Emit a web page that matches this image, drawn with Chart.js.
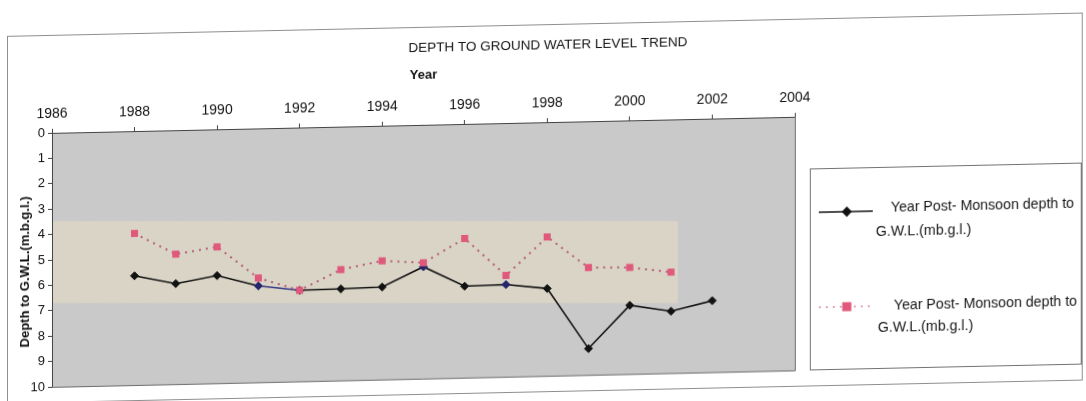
<!DOCTYPE html>
<html>
<head>
<meta charset="utf-8">
<script src="https://cdn.jsdelivr.net/npm/chart.js@4.4.1/dist/chart.umd.min.js"></script>
<style>
  html, body { margin: 0; padding: 0; background: #fff; width: 1086px; height: 401px; overflow: hidden; }
  /* the printed sheet sits with a slight slant: the right side rides higher */
  #sheet { position: absolute; left: 0; top: 0; width: 1086px; height: 430px;
           transform: skewY(-1.24deg); transform-origin: 0 0; }
  canvas { display: block; }
</style>
</head>
<body>
<div id="sheet"><canvas id="gwl" width="1086" height="430"></canvas></div>
<script>
// Post-monsoon depth to ground water level, metres below ground level
const yearsA = [1988, 1989, 1990, 1991, 1992, 1993, 1994, 1995, 1996, 1997, 1998, 1999, 2000, 2001, 2002];
const depthA = [5.70, 6.04, 5.76, 6.20, 6.41, 6.39, 6.35, 5.59, 6.39, 6.36, 6.55, 8.95, 7.28, 7.55, 7.17];

const yearsB = [1988, 1989, 1990, 1991, 1992, 1993, 1994, 1995, 1996, 1997, 1998, 1999, 2000, 2001];
const depthB = [4.03, 4.88, 4.63, 5.89, 6.41, 5.63, 5.32, 5.43, 4.51, 6.00, 4.52, 5.76, 5.79, 6.01];

const yearTicks = [1986, 1988, 1990, 1992, 1994, 1996, 1998, 2000, 2002, 2004];
const depthTicks = [0, 1, 2, 3, 4, 5, 6, 7, 8, 9, 10];

const chartTitle = 'DEPTH TO GROUND WATER LEVEL TREND';
const xTitle = 'Year';
const yTitle = 'Depth to G.W.L.(m.b.g.l.)';
const seriesLabel = 'Year Post- Monsoon depth to G.W.L.(mb.g.l.)';

const FONT = '"Liberation Sans", Arial, Helvetica, sans-serif';
const SHEAR = Math.tan(1.24 * Math.PI / 180);
Chart.defaults.font.family = FONT;

// a few markers of the solid series print in a navy tint
const markerA = yearsA.map(y => (y === 1991 || y === 1995 || y === 1997) ? '#25256e' : '#121212');

function wrapWords(ctx, text, maxW) {
  const words = text.split(' ');
  const lines = [];
  let cur = '';
  words.forEach(w => {
    const t = cur ? cur + ' ' + w : w;
    if (cur && ctx.measureText(t).width > maxW) { lines.push(cur); cur = w; }
    else cur = t;
  });
  if (cur) lines.push(cur);
  return lines;
}

const decor = {
  id: 'decor',
  beforeDraw(chart) {
    const { ctx, chartArea: a } = chart;
    ctx.save();
    // outer frame of the chart
    ctx.strokeStyle = '#8e8e8e';
    ctx.lineWidth = 1;
    ctx.strokeRect(7.5, 36.5, 1075, 367);
    // plot area fill
    ctx.fillStyle = '#c9c9c9';
    ctx.fillRect(a.left, a.top, a.right - a.left, a.bottom - a.top);
    // shaded band, laid level on the page
    ctx.transform(1, SHEAR, 0, 1, 0, 0);
    ctx.fillStyle = '#d9d4c6';
    ctx.fillRect(a.left, 221, 678 - a.left, 82);
    ctx.restore();
  },
  afterDraw(chart) {
    const { ctx, chartArea: a } = chart;
    ctx.save();
    // right and bottom edges of the plot area
    ctx.strokeStyle = '#6a6a6a';
    ctx.lineWidth = 1;
    ctx.beginPath();
    ctx.moveTo(Math.round(a.right) + 0.5, a.top);
    ctx.lineTo(Math.round(a.right) + 0.5, a.bottom);
    ctx.lineTo(a.left, Math.round(a.bottom) + 0.5);
    ctx.stroke();

    // titles
    ctx.fillStyle = '#111';
    ctx.textAlign = 'center';
    ctx.textBaseline = 'middle';
    ctx.font = '13.5px ' + FONT;
    ctx.fillText(chartTitle, 548, 57.5);
    ctx.font = 'bold 13px ' + FONT;
    ctx.fillText(xTitle, (a.left + a.right) / 2, 84.5);
    ctx.save();
    ctx.translate(25, 272.5);
    ctx.rotate(-Math.PI / 2);
    ctx.fillText(yTitle, 0, 0);
    ctx.restore();

    // legend box
    ctx.strokeStyle = '#727272';
    ctx.strokeRect(810.5, 186.5, 271, 201);
    const rows = [
      { y: 230, tx: [891, 876], ty: [227.5, 251], line: '#141414', dash: [] },
      { y: 325, tx: [894, 878], ty: [325, 347.5], line: '#e7a3b6', dash: [2, 5] }
    ];
    chart.data.datasets.forEach((ds, i) => {
      const r = rows[i];
      ctx.save();
      ctx.strokeStyle = r.line;
      ctx.lineWidth = ds.borderWidth;
      ctx.setLineDash(r.dash);
      ctx.beginPath();
      ctx.moveTo(819, r.y);
      ctx.lineTo(873, r.y);
      ctx.stroke();
      ctx.setLineDash([]);
      const c = i === 0 ? '#121212' : ds.pointBackgroundColor;
      ctx.fillStyle = c;
      ctx.strokeStyle = c;
      Chart.helpers.drawPoint(ctx, { pointStyle: ds.pointStyle, radius: ds.pointRadius, borderWidth: 1, rotation: 0 }, 847, r.y);
      ctx.restore();

      ctx.font = '14.2px ' + FONT;
      ctx.fillStyle = '#161616';
      ctx.textAlign = 'left';
      ctx.textBaseline = 'middle';
      const lines = wrapWords(ctx, ds.label, 190);
      lines.forEach((t, k) => ctx.fillText(t, r.tx[Math.min(k, 1)], r.ty[Math.min(k, 1)]));
    });
    ctx.restore();
  }
};

new Chart(document.getElementById('gwl'), {
  type: 'line',
  data: {
    datasets: [
      {
        label: seriesLabel,
        data: yearsA.map((x, i) => ({ x, y: depthA[i] })),
        borderColor: '#141414',
        borderWidth: 1.6,
        pointStyle: 'rectRot',
        pointRadius: 4,
        pointBackgroundColor: markerA,
        pointBorderColor: markerA,
        pointBorderWidth: 1,
        tension: 0,
        order: 1,
        segment: { borderColor: c => (c.p0DataIndex === 3 ? '#3a3a86' : undefined) }
      },
      {
        label: seriesLabel,
        data: yearsB.map((x, i) => ({ x, y: depthB[i] })),
        borderColor: '#b85d77',
        borderWidth: 2,
        borderDash: [2, 5],
        pointStyle: 'rect',
        pointRadius: 5,
        pointBackgroundColor: '#e0587b',
        pointBorderColor: '#e0587b',
        pointBorderWidth: 0,
        tension: 0,
        order: 0
      }
    ]
  },
  options: {
    responsive: false,
    animation: false,
    devicePixelRatio: 1,
    layout: { padding: { left: 0, top: 0, right: 291, bottom: 42 } },
    plugins: { legend: { display: false }, tooltip: { enabled: false }, title: { display: false } },
    scales: {
      x: {
        type: 'linear',
        position: 'top',
        min: yearTicks[0],
        max: yearTicks[yearTicks.length - 1],
        afterBuildTicks: s => { s.ticks = yearTicks.map(v => ({ value: v })); },
        afterFit: s => { s.height = 134; },
        ticks: { callback: v => String(v), font: { size: 14 }, color: '#111', padding: 6, maxRotation: 0, autoSkip: false },
        grid: { drawOnChartArea: false, tickLength: 4, color: '#444' },
        border: { color: '#444' }
      },
      y: {
        type: 'linear',
        reverse: true,
        min: depthTicks[0],
        max: depthTicks[depthTicks.length - 1],
        afterBuildTicks: s => { s.ticks = depthTicks.map(v => ({ value: v })); },
        afterFit: s => { s.width = 52; },
        ticks: { font: { size: 13 }, color: '#111', padding: 3 },
        grid: { drawOnChartArea: false, tickLength: 4, color: '#444' },
        border: { color: '#444' }
      }
    }
  },
  plugins: [decor]
});
</script>
</body>
</html>
